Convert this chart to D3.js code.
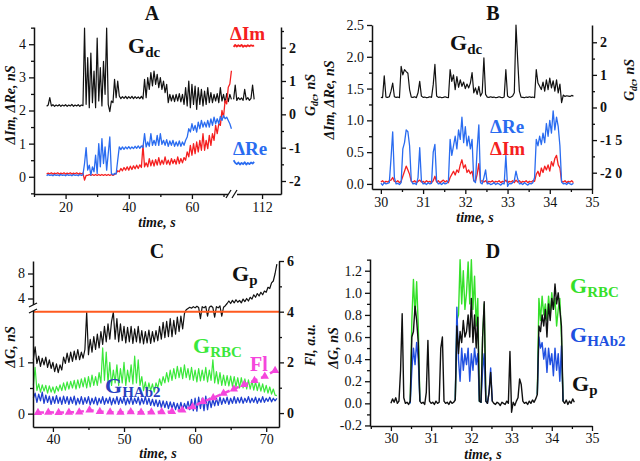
<!DOCTYPE html>
<html><head><meta charset="utf-8">
<script src="https://cdn.jsdelivr.net/npm/d3@7"></script>
<style>body{margin:0;background:#fff}svg{display:block}text{font-family:"Liberation Serif","Times New Roman",serif}</style>
</head><body><svg id="c" width="640" height="461"></svg>
<script>
const _ = null;
// ---------- Panel A (t = A_t0 + i*A_dt) ----------
const A_t0 = 14, A_dt = 0.5;
const A_gdc = [0.24,0.28,0.50,0.25,0.29,0.24,0.28,0.25,0.29,0.24,
0.28,0.25,0.29,0.24,0.28,0.25,0.30,0.24,0.28,0.25,
0.29,0.24,0.28,0.26,2.59,0.30,1.70,0.20,1.84,0.35,
1.30,0.20,2.29,0.40,1.40,0.25,1.59,0.60,2.59,0.30,
0.08,0.40,0.35,1.05,0.50,1.00,0.55,0.47,0.53,0.48,
0.54,0.47,0.53,0.48,0.54,0.47,0.53,0.48,0.52,0.47,
0.54,0.46,1.05,0.50,1.10,0.75,1.25,0.85,1.30,0.90,
1.20,0.80,1.10,0.75,1.00,0.65,0.90,0.35,0.60,0.40,
0.58,0.38,0.60,0.40,0.62,0.37,0.60,0.30,0.80,0.25,
1.00,0.20,0.90,0.30,0.85,0.15,0.80,0.30,0.75,0.25,
0.70,0.30,0.80,0.35,0.65,0.35,0.60,0.40,0.62,0.35,
0.80,0.40,0.60,0.35,0.62,0.38,0.60,0.45];
const A_re = [0.03,0.07,0.04,0.06,0.03,0.07,0.04,0.06,0.03,0.07,0.04,0.06,0.03,0.07,0.04,0.06,0.03,0.07,0.04,0.06,0.03,0.07,0.04,0.06,
0.4,0.88,0.2,0.35,0.05,0.3,0.15,0.65,0.1,1.0,0.3,1.15,0.4,0.9,0.2,0.7,1.2,0.1,0.06,0.1,0.08,0.5,0.9,0.82,0.9,0.83,0.9,0.84,0.91,0.84,0.9,0.85,0.92,0.86,0.93,0.86,0.93,0.88,
1.3,0.9,1.05,0.92,1.3,0.95,1.1,0.95,1.25,0.95,1.3,0.98,1.1,0.95,1.12,0.92,1.08,0.95,1.1,0.92,1.05,0.93,1.08,0.92,1.05,0.95,1.1,1.2,1.45,1.35,1.6,1.4,1.55,1.35,1.65,1.45,1.7,1.5,1.65,1.5,1.7,1.5,1.75,1.55,1.8,1.6,1.75,1.6,1.82,1.7,1.85,1.75,1.8,1.7,1.6,1.45];
const A_im = [0.08,0.11,0.09,0.12,0.08,0.11,0.09,0.12,0.08,0.11,0.09,0.12,0.08,0.11,0.09,0.12,0.08,0.11,0.09,0.12,0.08,0.11,0.09,0.11,
-0.1,0.04,0.04,0.07,0.04,0.07,0.04,0.07,0.04,0.07,0.04,0.07,0.04,0.07,0.04,0.07,0.04,0.07,0.04,0.07,
0.1,0.18,0.15,0.25,0.18,0.28,0.2,0.3,0.2,0.32,0.22,0.33,0.24,0.35,0.25,0.36,0.28,0.95,0.3,0.42,0.3,0.55,0.33,0.5,0.32,0.52,0.35,0.58,0.36,0.5,0.38,0.6,0.38,0.5,0.36,0.55,0.4,0.52,0.38,0.6,0.4,0.55,0.42,0.58,0.5,0.75,0.6,0.95,0.65,1.0,0.7,1.05,0.75,1.1,0.8,1.3,0.8,1.1,0.85,1.25,0.95,1.3,1.1,1.55,1.3,1.6,1.55,2.0,1.8,2.3,2.2,2.7,2.8,3.2];
const A2_t0 = 103, A2_dt = 0.5;
const A2_gdc = [0.45,0.88,0.42,0.5,0.44,0.49,0.42,0.75,0.44,0.5,0.42,0.48,0.88,0.45];
const A2_re = [0.5,0.42,0.38,0.43,0.37,0.42,0.38,0.44,0.37,0.42,0.38,0.43,0.4,0.45];
const A2_im = [3.92,3.98,3.93,3.97,3.94,3.98,3.92,3.96,3.93,3.97,3.94,3.97,3.95,3.96];
const A_xTicks = [20,40,60,112];

// ---------- Panel B ----------
const B_t0 = 30, B_dt = 0.04;
const B_gdc = [0.31,0.30,0.97,0.32,0.31,0.33,0.50,0.75,0.33,0.31,
0.32,0.30,1.26,1.00,1.16,1.10,1.05,0.55,0.32,0.31,
0.33,0.30,0.45,0.80,0.35,0.31,0.32,0.30,0.31,0.33,
0.31,0.70,1.32,0.35,0.31,0.32,0.30,0.31,0.33,0.31,
0.30,1.16,0.80,1.00,0.55,0.95,0.62,0.85,0.65,0.78,
0.58,0.72,0.60,0.75,1.07,0.45,0.60,0.40,0.65,0.35,
0.45,1.52,0.40,0.32,0.31,0.33,0.31,0.32,0.30,0.31,
0.33,0.31,0.30,0.32,1.16,0.35,0.31,0.32,0.35,0.45,
2.53,1.46,0.50,0.32,0.31,0.30,0.32,0.31,0.33,0.31,
0.32,0.30,1.16,0.75,0.65,0.55,0.78,0.50,0.85,0.55,
0.90,0.60,0.82,0.50,0.85,0.45,0.72,0.15,0.38,0.34,
0.36,0.35,0.34,0.37,0.35];
const B_re = [0.01,-0.02,0.02,0.00,0.01,0.02,0.40,0.82,0.10,0.00,
0.01,-0.01,0.02,0.55,0.65,0.85,0.82,0.60,0.05,0.00,
0.01,-0.01,0.10,0.57,0.05,0.00,0.01,-0.01,0.02,0.00,
0.01,0.50,0.62,0.05,0.00,0.01,-0.01,0.02,0.00,0.01,
0.05,0.70,0.45,0.60,0.75,0.55,0.85,0.70,1.05,0.65,
0.90,0.60,0.75,0.55,0.70,0.05,0.02,0.55,0.93,0.02,
0.00,0.10,0.22,0.00,0.01,-0.01,0.00,0.02,-0.01,0.01,
0.00,-0.02,0.01,0.00,0.45,-0.04,0.01,0.00,0.02,0.05,
0.20,0.08,0.00,0.01,-0.01,0.02,0.00,-0.02,0.01,0.00,
0.02,0.10,0.70,0.60,0.75,0.62,0.80,0.65,0.95,0.75,
1.00,0.80,1.15,0.85,1.05,0.90,0.60,0.03,0.00,0.01,
-0.01,0.02,0.00,-0.01,0.01];
const B_im = [0.03,0.05,0.02,0.04,0.03,0.05,0.06,0.10,0.04,0.03,
0.05,0.02,0.04,0.12,0.20,0.28,0.22,0.15,0.04,0.03,
0.05,0.02,0.04,0.06,0.03,0.04,0.02,0.05,0.03,0.04,
0.02,0.05,0.12,0.03,0.05,0.02,0.04,0.06,0.03,0.05,
0.02,0.10,0.15,0.20,0.14,0.22,0.18,0.30,0.38,0.25,
0.30,0.18,0.22,0.16,0.20,0.05,0.04,0.15,0.32,0.04,
0.05,0.03,0.05,0.02,0.04,0.03,0.05,0.02,0.04,0.03,
0.05,0.02,0.04,0.03,0.06,0.02,0.04,0.03,0.05,0.02,
0.06,0.03,0.05,0.02,0.04,0.03,0.05,0.02,0.04,0.03,
0.05,0.04,0.15,0.20,0.12,0.25,0.18,0.28,0.22,0.30,
0.20,0.35,0.28,0.40,0.45,0.30,0.25,0.04,0.03,0.05,
0.02,0.04,0.03,0.05,0.02];
const B_rTickLabels = ["-2 0","-1 5","0","1","2"];

// ---------- Panel C ----------
const C_t0 = 37.25, C_dt = 0.25;
const C_gp = [1.05,1.30,0.98,1.12,0.92,1.08,0.95,1.10,0.90,1.05,
0.88,1.00,0.82,0.97,0.80,0.95,0.85,1.10,0.98,1.18,
1.00,1.20,1.02,1.22,1.05,1.25,1.05,1.20,1.08,1.25,
1.98,1.15,1.45,1.20,1.50,1.25,1.55,1.28,1.60,1.35,
1.70,1.40,1.75,1.45,1.80,1.98,1.45,1.85,1.40,1.75,
1.42,1.70,1.38,1.68,1.40,1.70,1.37,1.65,1.40,1.70,
1.38,1.62,1.36,1.60,1.38,1.63,1.37,1.60,1.40,1.62,
1.42,1.70,1.45,1.78,1.48,1.80,1.50,1.85,1.50,1.82,
1.55,1.88,1.60,1.90,1.65,1.95,2.20,2.40,2.60,2.45,
2.70,2.50,2.75,2.55,1.85,2.70,2.50,2.75,1.90,2.60,
2.80,2.55,1.88,2.70,2.50,2.80,1.90,2.60,2.85,3.20,
3.60,3.20,3.70,3.30,3.80,3.40,3.70,3.30,3.90,3.50,
4.00,3.60,4.20,3.90,4.60,4.20,4.80,4.40,5.00,4.60,
5.20,5.00,5.80,5.60,6.50,6.80,8.00,9.50];
const C_rbc = [0.55,0.90,0.45,0.58,0.42,0.56,0.44,0.55,0.40,0.54,
0.42,0.52,0.40,0.53,0.44,0.56,0.45,0.60,0.46,0.62,
0.48,0.63,0.50,0.65,0.48,0.66,0.50,0.68,0.52,0.70,
0.50,0.72,0.52,0.75,0.55,0.72,0.55,0.80,0.60,1.28,
0.65,1.20,0.60,1.00,0.55,0.85,0.60,0.95,0.55,0.88,
0.60,1.00,0.55,0.85,0.62,0.95,0.58,1.12,0.60,1.05,
0.55,0.72,0.45,0.62,0.42,0.60,0.45,0.58,0.42,0.60,
0.50,0.68,0.55,0.72,0.60,0.80,0.62,0.85,0.65,0.88,
0.68,0.92,0.70,0.90,0.68,0.95,0.70,0.88,0.66,0.90,
0.65,0.85,0.62,0.88,0.64,0.85,0.65,0.90,0.62,0.85,
0.65,1.05,0.60,0.82,0.58,0.80,0.55,0.75,0.55,0.74,
0.54,0.73,0.53,0.72,0.52,0.70,0.50,0.70,0.50,0.68,
0.48,0.66,0.48,0.64,0.46,0.62,0.45,0.60,0.44,0.58,
0.42,0.55,0.40,0.52,0.38,0.48,0.36,0.35];
const C_hab = [0.30,0.40,0.22,0.38,0.25,0.42,0.20,0.36,0.22,0.34,
0.18,0.33,0.20,0.35,0.20,0.32,0.18,0.34,0.20,0.33,
0.18,0.32,0.20,0.34,0.17,0.30,0.19,0.33,0.18,0.31,
0.20,0.33,0.17,0.30,0.19,0.32,0.17,0.30,0.20,0.33,
0.18,0.30,0.20,0.32,0.17,0.30,0.19,0.33,0.18,0.31,
0.20,0.32,0.17,0.30,0.19,0.33,0.18,0.30,0.20,0.32,
0.17,0.30,0.19,0.33,0.18,0.30,0.16,0.28,0.15,0.27,
0.14,0.26,0.12,0.25,0.12,0.24,0.10,0.23,0.10,0.22,
0.08,0.20,0.08,0.22,0.07,0.20,0.10,0.24,0.08,0.28,
0.06,0.30,0.05,0.32,0.10,0.30,0.06,0.34,0.08,0.30,
0.12,0.28,0.15,0.30,0.16,0.32,0.18,0.30,0.20,0.32,
0.18,0.30,0.20,0.33,0.20,0.31,0.21,0.32,0.20,0.30,
0.22,0.33,0.21,0.30,0.22,0.32,0.20,0.30,0.22,0.33,
0.22,0.30,0.24,0.32,0.23,0.30,0.25,0.30];
const C_flT = [37.9,39.35,40.8,42.25,43.7,45.15,46.6,48.05,49.5,50.95,52.4,53.85,55.3,56.75,58.2,59.65,61.1,62.55,64.0,65.45,66.9,68.35,69.8,71.25];
const C_fl = [0.02,0.03,0.02,0.03,0.04,0.12,0.06,0.04,0.03,0.05,0.03,0.04,0.05,0.06,0.12,0.25,0.45,0.6,0.78,0.95,1.12,1.28,1.45,1.68];
const C_breakFl = 4;

// ---------- Panel D ----------
const D_t0 = 30, D_dt = 0.04;
const D_gp = [0.00,0.04,0.01,0.05,0.00,0.02,0.30,0.81,0.05,0.00,
0.01,-0.01,0.02,0.60,0.65,0.88,0.75,0.55,0.02,0.00,
0.01,-0.01,0.10,0.57,0.02,0.00,0.01,-0.01,0.02,0.00,
0.01,0.50,0.60,0.02,0.00,0.01,-0.01,0.02,0.00,0.01,
0.03,0.70,0.45,0.65,0.55,0.75,0.60,0.65,0.80,0.60,
0.95,0.55,0.80,0.50,0.78,0.02,0.01,0.60,0.92,0.02,
0.00,0.10,0.28,0.02,0.00,-0.01,0.01,0.00,-0.02,0.01,
0.00,-0.01,0.02,0.00,0.47,-0.08,0.01,-0.02,0.02,0.05,
0.22,0.17,0.02,0.00,0.01,-0.01,0.02,0.00,0.03,0.01,
0.04,0.08,0.70,0.65,0.80,0.70,0.85,0.60,0.90,0.75,
0.95,0.85,1.08,0.90,1.00,0.85,0.70,0.02,0.00,0.03,
-0.01,0.02,0.00,0.04,0.01];
const D_rbc = [_,_,_,_,_,_,_,_,_,_,
_,_,0.00,0.75,1.12,0.80,1.10,0.70,0.02,_,
_,_,_,_,_,_,_,_,_,_,
_,_,_,_,_,_,_,_,_,_,
0.03,0.75,0.80,1.30,0.90,1.20,0.85,1.00,1.28,0.90,
1.30,0.85,1.15,0.70,0.95,0.02,0.01,0.60,0.90,0.02,
_,_,_,_,_,_,_,_,_,_,
_,_,_,_,_,_,_,_,_,_,
_,_,_,_,_,_,_,_,_,_,
_,0.08,0.95,0.75,0.97,0.80,0.90,0.75,0.97,0.80,
1.00,0.85,0.95,0.70,0.85,0.95,0.60,0.02,_,_,
_,_,_,_,_];
const D_hab = [_,_,_,_,_,_,_,_,_,_,
_,_,0.00,0.30,0.50,0.35,0.55,0.40,0.02,_,
_,_,_,_,_,_,_,_,_,_,
_,_,_,_,_,_,_,_,_,_,
0.03,0.87,0.40,0.20,0.50,0.30,0.45,0.35,0.50,0.20,
0.45,0.30,0.50,0.35,0.45,0.02,0.01,0.30,0.45,0.02,
0.00,0.10,0.32,0.02,_,_,_,_,_,_,
_,_,_,_,_,_,_,_,_,_,
_,_,_,_,_,_,_,_,_,_,
_,0.08,0.60,0.50,0.55,0.40,0.50,0.28,0.50,0.35,
0.45,0.25,0.50,0.30,0.45,0.20,0.52,0.02,_,_,
_,_,_,_,_];

// ---------- drawing ----------
const svg = d3.select('#c');
const INK = '#111';
const hy = s => s.replace('\u2212','-');
const f1 = d => hy(d3.format('.1f')(d));
const fi = d => hy(String(d));

function axis(scale, orient, pos, major, minor, fmt, bold, pad = 3) {
  const gen = orient === 'left' ? d3.axisLeft : orient === 'right' ? d3.axisRight : d3.axisBottom;
  const a = svg.append('g').attr('transform', orient === 'bottom' ? `translate(0,${pos})` : `translate(${pos},0)`);
  a.call(gen(scale).tickValues(major).tickSize(5).tickSizeOuter(0).tickPadding(pad).tickFormat(fmt));
  if (minor) {
    const m = a.append('g').call(gen(scale).tickValues(minor).tickSize(3).tickSizeOuter(0).tickFormat(''));
    m.select('.domain').remove();
  }
  a.selectAll('.domain').attr('stroke', INK).attr('stroke-width', 1.5);
  a.selectAll('.tick line').attr('stroke', INK).attr('stroke-width', 1.3);
  a.selectAll('.tick text').attr('font-family', '"Liberation Serif",serif').attr('font-size', 14)
    .attr('fill', INK).attr('font-weight', bold ? 'bold' : 'normal');
  return a;
}
function trace(data, t0, dt, xs, ys, color, w) {
  const line = d3.line().defined(d => d != null).x((d, i) => xs(t0 + i * dt)).y(d => ys(d));
  svg.append('path').datum(data).attr('d', line).attr('fill', 'none')
    .attr('stroke', color).attr('stroke-width', w).attr('stroke-linejoin', 'round');
}
function glabel(x, y, main, sub, color, size = 22, subSize = 15) {
  const t = svg.append('text').attr('x', x).attr('y', y).attr('fill', color)
    .attr('font-weight', 'bold').attr('font-size', size);
  t.append('tspan').text(main);
  if (sub) t.append('tspan').attr('font-size', subSize).attr('dy', 4).text(sub);
}
function ytitle(x, y, parts) {
  const t = svg.append('text').attr('transform', `translate(${x},${y}) rotate(-90)`)
    .attr('text-anchor', 'middle').attr('font-size', 14).attr('font-weight', 'bold')
    .attr('font-style', 'italic').attr('fill', INK);
  let sub = false;
  parts.forEach(p => {
    const ts = t.append('tspan').text(p[0]);
    if (p[1]) { ts.attr('font-size', 10).attr('dy', 3); sub = true; }
    else if (sub) { ts.attr('dy', -3); sub = false; }
  });
}
function xtitle(x, y) {
  svg.append('text').attr('x', x).attr('y', y).attr('text-anchor', 'middle').attr('font-size', 14)
    .attr('font-weight', 'bold').attr('font-style', 'italic').attr('fill', INK).text('time, s');
}
function letter(x, y, s) {
  svg.append('text').attr('x', x).attr('y', y).attr('text-anchor', 'middle').attr('font-size', 20)
    .attr('font-weight', 'bold').attr('fill', INK).text(s);
}

const BLUE = '#2a6cf0', RED = '#f52020';

// ---- Panel A ----
const xA = d3.scaleLinear().domain([10, 73, 102.8, 118]).range([34, 233, 233, 281]);
const yA = d3.scaleLinear().domain([-0.52, 4.52]).range([194, 27]);
const yAr = d3.scaleLinear().domain([-2.39, 2.62]).range([194, 27]);
trace(A_gdc, A_t0, A_dt, xA, yAr, INK, 1.2);
trace(A2_gdc, A2_t0, A2_dt, xA, yAr, INK, 1.2);
trace(A_im, A_t0, A_dt, xA, yA, RED, 1.3);
trace(A2_im, A2_t0, A2_dt, xA, yA, RED, 1.8);
trace(A_re, A_t0, A_dt, xA, yA, BLUE, 1.3);
trace(A2_re, A2_t0, A2_dt, xA, yA, BLUE, 1.8);
axis(yA, 'left', 34, [0,1,2,3,4], [-0.5,0.5,1.5,2.5,3.5,4.5], fi, false);
axis(yAr, 'right', 281, [-2,-1,0,1,2], [-1.5,-0.5,0.5,1.5,2.5], fi, true);
axis(xA, 'bottom', 194, A_xTicks, [10,30,50,70], fi, false);
svg.append('rect').attr('x', 228).attr('y', 190).attr('width', 9).attr('height', 8).attr('fill', '#fff');
[[226,198,231,190],[232,198,237,190]].forEach(l => svg.append('line').attr('x1', l[0]).attr('y1', l[1])
  .attr('x2', l[2]).attr('y2', l[3]).attr('stroke', INK).attr('stroke-width', 1.3));
letter(152, 20, 'A');
glabel(128, 53, 'G', 'dc', INK);
svg.append('text').attr('x', 230).attr('y', 40).attr('fill', RED).attr('font-weight', 'bold').attr('font-size', 19).text('\u0394Im');
svg.append('text').attr('x', 233).attr('y', 155).attr('fill', BLUE).attr('font-weight', 'bold').attr('font-size', 19).text('\u0394Re');
ytitle(15, 105, [['\u0394Im, \u0394Re, nS']]);
ytitle(315, 95, [['G'], ['dc', true], [', nS']]);
xtitle(157, 227);

// ---- Panel B ----
const xB = d3.scaleLinear().domain([29.79, 35]).range([372, 592]);
const yB = d3.scaleLinear().domain([-0.08, 2.5]).range([189, 25]);
const yBr = d3.scaleLinear().domain([-2.5, 2.53]).range([189, 25]);
trace(B_gdc, B_t0, B_dt, xB, yBr, INK, 1.2);
trace(B_im, B_t0, B_dt, xB, yB, RED, 1.3);
trace(B_re, B_t0, B_dt, xB, yB, BLUE, 1.3);
axis(yB, 'left', 372, [0,0.5,1,1.5,2,2.5], [0.25,0.75,1.25,1.75,2.25], f1, false);
axis(yBr, 'right', 592, [-2,-1,0,1,2], [-1.5,-0.5,0.5,1.5], (d, i) => B_rTickLabels[i], true);
axis(xB, 'bottom', 189, [30,31,32,33,34,35], [30.5,31.5,32.5,33.5,34.5], fi, false);
letter(493, 20, 'B');
glabel(450, 50, 'G', 'dc', INK);
svg.append('text').attr('x', 490).attr('y', 133).attr('fill', BLUE).attr('font-weight', 'bold').attr('font-size', 19).text('\u0394Re');
svg.append('text').attr('x', 490).attr('y', 155).attr('fill', RED).attr('font-weight', 'bold').attr('font-size', 19).text('\u0394Im');
ytitle(334, 100, [['\u0394Im, \u0394Re, nS']]);
ytitle(634, 80, [['G'], ['dc', true], [', nS']]);
xtitle(475, 222);

// ---- Panel C ----
const xC = d3.scaleLinear().domain([37.2, 71.8]).range([33, 279]);
const yC = d3.scaleLinear().domain([-0.26, 2, 10]).range([427, 311, 261]);
const yCr = d3.scaleLinear().domain([-0.55, 6]).range([427, 261]);
const GREEN = '#3be83b', CBLUE = '#1f3fd0', MAG = '#f546dc';
trace(C_gp, C_t0, C_dt, xC, yC, INK, 1.2);
trace(C_rbc, C_t0, C_dt, xC, yC, GREEN, 1.2);
trace(C_hab, C_t0, C_dt, xC, yC, CBLUE, 1.3);
const flLine = d3.line().x((d, i) => xC(C_flT[i])).y(d => yCr(d));
svg.append('path').datum(C_fl).attr('d', flLine).attr('fill', 'none').attr('stroke', MAG)
  .attr('stroke-width', 2.5).attr('stroke-dasharray', '6,4');
svg.selectAll('.flm').data(C_fl).enter().append('path')
  .attr('d', d3.symbol(d3.symbolTriangle).size(30))
  .attr('transform', (d, i) => `translate(${xC(C_flT[i])},${yCr(d)})`).attr('fill', MAG);
svg.append('line').attr('x1', 33).attr('x2', 279).attr('y1', yCr(C_breakFl)).attr('y2', yCr(C_breakFl))
  .attr('stroke', '#ff5a1f').attr('stroke-width', 2);
axis(yC, 'left', 33, [0,1,4,8], [0.5,1.5,6], fi, false);
axis(yCr, 'right', 279, [0,2,4,6], [1,3,5], fi, true);
axis(xC, 'bottom', 427, [40,50,60,70], [45,55,65], fi, false, 2);
svg.append('rect').attr('x', 29).attr('y', 305).attr('width', 8).attr('height', 6).attr('fill', '#fff');
[[29,307,37,303],[29,313,37,309]].forEach(l => svg.append('line').attr('x1', l[0]).attr('y1', l[1])
  .attr('x2', l[2]).attr('y2', l[3]).attr('stroke', INK).attr('stroke-width', 1.3));
letter(157, 258, 'C');
glabel(232, 281, 'G', 'p', INK);
glabel(193, 353, 'G', 'RBC', GREEN);
svg.append('text').attr('x', 250).attr('y', 371).attr('fill', MAG).attr('font-weight', 'bold').attr('font-size', 20).text('Fl');
glabel(105, 393, 'G', 'HAb2', '#2a3fbf');
ytitle(15, 347, [['\u0394G, nS']]);
ytitle(315, 345, [['Fl, a.u.']]);
xtitle(158, 458);

// ---- Panel D ----
const xD = d3.scaleLinear().domain([29.48, 35]).range([370, 592]);
const yD = d3.scaleLinear().domain([-0.205, 1.306]).range([426, 259]);
trace(D_rbc, D_t0, D_dt, xD, yD, '#35e02a', 1.4);
trace(D_hab, D_t0, D_dt, xD, yD, '#2050e0', 1.4);
trace(D_gp, D_t0, D_dt, xD, yD, INK, 1.4);
axis(yD, 'left', 370, [-0.2,0,0.2,0.4,0.6,0.8,1.0,1.2], [-0.1,0.1,0.3,0.5,0.7,0.9,1.1,1.3], f1, false);
axis(xD, 'bottom', 426, [30,31,32,33,34,35], [29.5,30.5,31.5,32.5,33.5,34.5], fi, false, 2);
letter(493, 258, 'D');
glabel(570, 293, 'G', 'RBC', '#35e02a');
glabel(570, 342, 'G', 'HAb2', '#2050e0');
glabel(572, 391, 'G', 'p', INK);
ytitle(338, 348, [['\u0394G, nS']]);
xtitle(483, 459);
</script></body></html>
